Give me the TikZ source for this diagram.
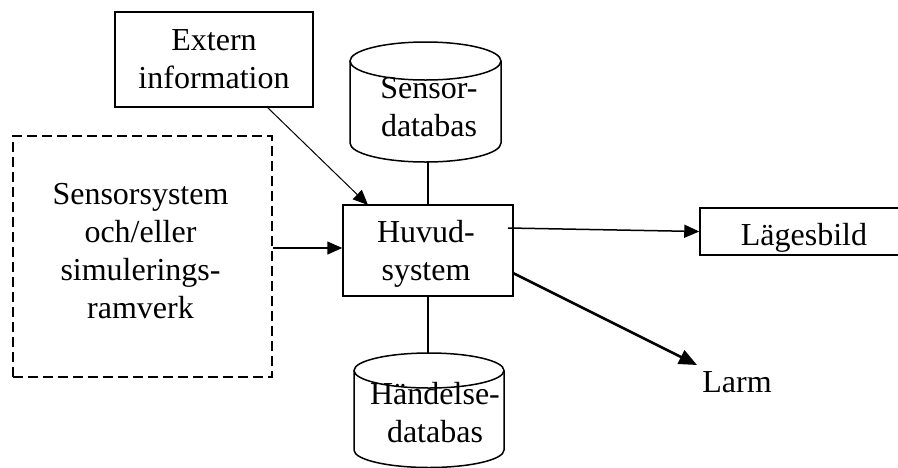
\documentclass[tikz,border=0pt]{standalone}
\usepackage{fontspec}
\setmainfont{Liberation Serif}
\usetikzlibrary{arrows.meta}
\begin{document}
\begin{tikzpicture}[x=1pt,y=-1pt,
  every node/.style={font=\fontsize{32}{38}\selectfont, inner sep=0pt, align=center},
  box/.style={draw, line width=1.5pt},
  dbox/.style={draw, line width=1.5pt, dash pattern=on 10pt off 5pt},
  ghost/.style={draw=none},
  conn/.style={line width=1.5pt},
  tip/.style={-{Triangle[length=15pt,width=13pt]}},
  bigtip/.style={-{Triangle[length=18pt,width=15pt]}},
  cyl/.style={line width=1.5pt},
]
\useasboundingbox (0,0) rectangle (898,467);

% boxes
\node[box, minimum width=198pt, minimum height=95pt] (ext) at (214,59.5) {Extern\\information};
\node[dbox, minimum width=259pt, minimum height=241pt] (sens) at (142.5,256.5) {};
\node (senst) at (140.5,251) {Sensorsystem\\och/eller\\simulerings-\\ramverk};
\node[box, minimum width=170pt, minimum height=91pt] (huv) at (428,250.5) {};
\node (huvt) at (426,254) {Huvud-\\system};
\node[box, minimum width=206pt, minimum height=47pt] (lag) at (803,231.5) {};
\node (lagt) at (804,237.5) {Lägesbild};
\node (larm) at (737,382) {Larm};

% Sensor-databas cylinder
\draw[cyl] (350,61) -- (350,143) arc[start angle=180,end angle=360,x radius=75.5pt,y radius=19pt] -- (501,61);
\draw[cyl] (425.5,61) ellipse[x radius=75.5pt, y radius=19pt];
\node[ghost, minimum width=151pt, minimum height=120pt] (sdb) at (425.5,102) {};
\node (sdbt) at (429,107.5) {Sensor-\\databas};

% Händelse-databas cylinder
\draw[cyl] (354,370.5) -- (354,450) arc[start angle=180,end angle=360,x radius=75pt,y radius=17.5pt] -- (504,370.5);
\draw[cyl] (429,370.5) ellipse[x radius=75pt, y radius=17.5pt];
\node[ghost, minimum width=150pt, minimum height=115pt] (hdb) at (429,410.5) {};
\node (hdbt) at (435,413) {Händelse-\\databas};

% connector end points
\coordinate (e1) at (267,107);
\coordinate (e2) at (368,205);
\coordinate (l1) at (508,228);
\coordinate (a1) at (513,273);
\coordinate (a2) at (697,365);

% connectors
\draw[line width=1pt, tip] (e1) -- (e2);
\draw[conn, tip] (sens.east |- 0,248) -- (huv.west |- 0,248);
\draw[conn] (sdb.south -| huv.north) -- (huv.north);
\draw[conn] (huv.south) -- (huv.south |- hdb.north);
\draw[conn, tip] (l1) -- (lag.west);
\draw[line width=2.5pt, bigtip] (a1) -- (a2);
\end{tikzpicture}
\end{document}
